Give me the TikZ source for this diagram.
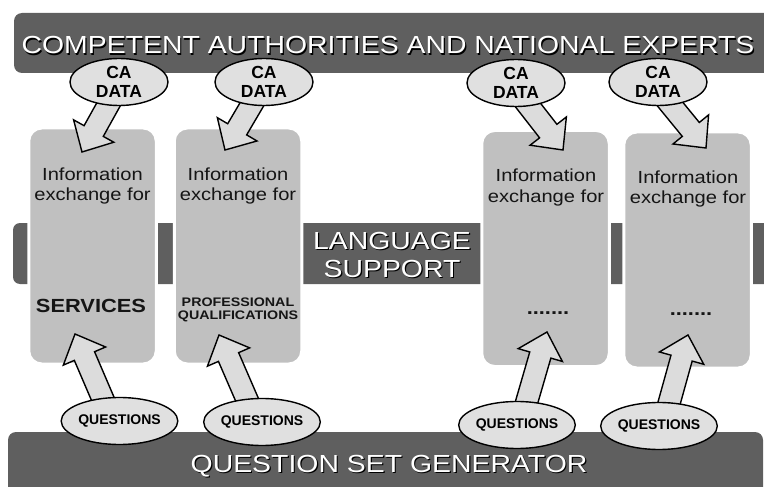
\documentclass[tikz,border=0pt]{standalone}
\usepackage{fontspec}
\setmainfont{Liberation Sans}
\newfontfamily\wf[FakeStretch=1.15]{Liberation Sans}
\usetikzlibrary{calc,shapes.geometric}
\definecolor{bandc}{HTML}{5F5F5F}
\definecolor{boxc}{HTML}{C0C0C0}
\definecolor{ellc}{HTML}{E0E0E0}
\definecolor{arrc}{HTML}{DCDCDC}
\definecolor{txtc}{HTML}{151515}
\tikzset{
  band/.style={fill=bandc, rounded corners=8pt},
  infobox/.style={rectangle, rounded corners=13pt, fill=boxc, draw=white, line width=3pt,
    minimum width=127.5pt, minimum height=236pt, inner sep=0pt},
  oval/.style={ellipse, fill=ellc, draw=black, line width=1.4pt, inner sep=0pt,
    minimum width=98pt, minimum height=47pt, align=center},
  cadata/.style={oval, font=\bfseries\fontsize{17.5}{19}\selectfont},
  quest/.style={oval, font=\bfseries\fontsize{14}{15}\selectfont},
  arrsty/.style={fill=arrc, draw=black, line width=1.4pt, line join=miter},
  bigtxt/.style={font=\wf\fontsize{24.7}{27}\selectfont, anchor=base, inner sep=0pt},
  infotxt/.style={font=\wf\fontsize{17.5}{20}\selectfont, text=txtc, anchor=base, inner sep=0pt},
  boldtxt/.style={font=\wf\bfseries\fontsize{19}{21}\selectfont, text=txtc, anchor=base, inner sep=0pt},
  smalltxt/.style={font=\wf\bfseries\fontsize{12.4}{13}\selectfont, text=txtc, anchor=base, inner sep=0pt}
}
\newcommand{\blockarrow}[2]{%
  \path ($(#2)!24pt!(#1)$) coordinate (hh);
  \draw[arrsty] ($(#1)!11pt!90:(#2)$) -- ($(hh)!11pt!90:(#2)$) -- ($(hh)!23pt!90:(#2)$)
    -- (#2) -- ($(hh)!23pt!-90:(#2)$) -- ($(hh)!11pt!-90:(#2)$) -- ($(#1)!11pt!-90:(#2)$) -- cycle;
}
\newcommand{\shadowed}[3]{% name, position, text
  \node[bigtxt, text=black] at ($(#2)+(1.2,1.2)$) {#3};
  \node[bigtxt, text=white] (#1) at (#2) {#3};
}
\begin{document}
\begin{tikzpicture}[x=1pt,y=-1pt]
\useasboundingbox (0,0) rectangle (764,487);
\clip (0,0) rectangle (764,487);
% bands
\fill[band] (14,13) rectangle (800,73);
\fill[band] (8,432) rectangle (763,520);
\fill[band, rounded corners=7pt] (13,223) rectangle (800,284);
% boxes
\node[infobox] (box1) at (92.5,246) {};
\node[infobox] (box2) at (238,246) {};
\node[infobox] (box3) at (545.5,248.5) {};
\node[infobox] (box4) at (687.5,250) {};
% band texts
\coordinate (ptitle) at (388,54);
\coordinate (pbottom) at (389,472);
\coordinate (plang) at (392,249);
\coordinate (psupp) at (392,277);
\shadowed{title}{ptitle}{COMPETENT AUTHORITIES AND NATIONAL EXPERTS}
\shadowed{generator}{pbottom}{QUESTION SET GENERATOR}
\shadowed{lang}{plang}{LANGUAGE}
\shadowed{supp}{psupp}{SUPPORT}
% box texts
\node[infotxt] (i1a) at (92.5,180) {Information};
\node[infotxt] (i1b) at (92.5,200) {exchange for};
\node[infotxt] (i2a) at (238,180) {Information};
\node[infotxt] (i2b) at (238,200) {exchange for};
\node[infotxt] (i3a) at (546,182) {Information};
\node[infotxt] (i3b) at (546,202) {exchange for};
\node[infotxt] (i4a) at (688,183) {Information};
\node[infotxt] (i4b) at (688,203) {exchange for};
\node[boldtxt] (serv) at (91,312) {SERVICES};
\node[smalltxt] (prof) at (238,306) {PROFESSIONAL};
\node[smalltxt] (qual) at (238,319) {QUALIFICATIONS};
\node[boldtxt] (dots3) at (548,314) {.......};
\node[boldtxt] (dots4) at (691,315) {.......};
% arrow ends
\coordinate (ta1) at (121,82);  \coordinate (ha1) at (82,152);
\coordinate (ta2) at (265,82);  \coordinate (ha2) at (225,150);
\coordinate (ta3) at (510,82);  \coordinate (ha3) at (563,150);
\coordinate (ta4) at (652,82);  \coordinate (ha4) at (706,148);
\coordinate (tb1) at (114,425); \coordinate (hb1) at (75,334);
\coordinate (tb2) at (258,425); \coordinate (hb2) at (219,335);
\coordinate (tb3) at (520,425); \coordinate (hb3) at (547,332);
\coordinate (tb4) at (663,425); \coordinate (hb4) at (688,335);
\blockarrow{ta1}{ha1}
\blockarrow{ta2}{ha2}
\blockarrow{ta3}{ha3}
\blockarrow{ta4}{ha4}
\blockarrow{tb1}{hb1}
\blockarrow{tb2}{hb2}
\blockarrow{tb3}{hb3}
\blockarrow{tb4}{hb4}
% ovals
\node[cadata] (ca1) at (119,82) {CA\\DATA};
\node[cadata] (ca2) at (264,82) {CA\\DATA};
\node[cadata] (ca3) at (516,83) {CA\\DATA};
\node[cadata] (ca4) at (658,82) {CA\\DATA};
\node[quest] (q1) at (119.5,421) {QUESTIONS};
\node[quest] (q2) at (262,422) {QUESTIONS};
\node[quest] (q3) at (517,425) {QUESTIONS};
\node[quest] (q4) at (659,426) {QUESTIONS};
\end{tikzpicture}
\end{document}
